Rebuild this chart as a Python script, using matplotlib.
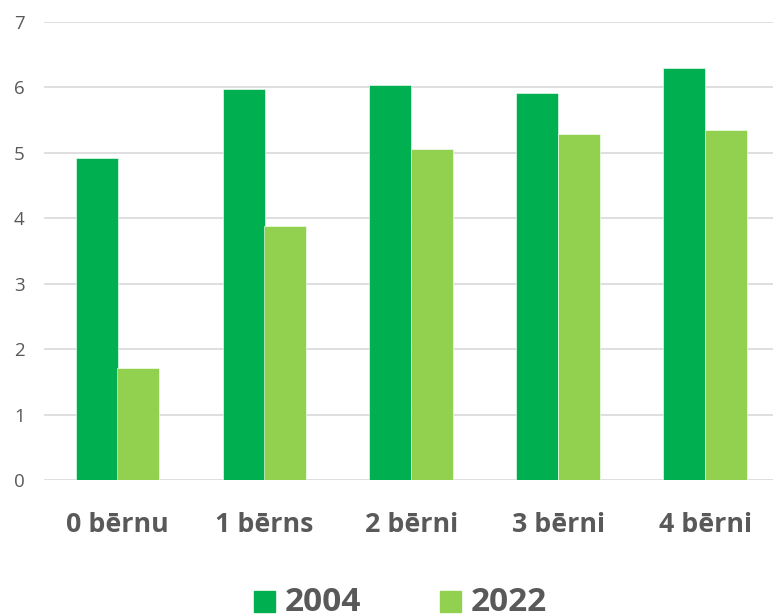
import numpy as np
import matplotlib
matplotlib.use("Agg")
import matplotlib.pyplot as plt
from matplotlib.patches import Rectangle

categories = ["0 bērnu", "1 bērns", "2 bērni", "3 bērni", "4 bērni"]
series_names = ["2004", "2022"]
values_2004 = [4.92, 5.98, 6.04, 5.91, 6.30]
values_2022 = [1.71, 3.88, 5.06, 5.29, 5.35]

colors = ["#00B050", "#92D050"]
text_color = "#595959"

plt.rcParams["font.family"] = ["Open Sans", "DejaVu Sans"]

W, H = 774, 614
fig = plt.figure(figsize=(W / 100, H / 100), dpi=100)
ax = fig.add_axes([44 / W, (H - 480) / H, (773 - 44) / W, (480 - 22) / H])

x = np.arange(len(categories))
bw = 42 / 147
ax.bar(x - bw / 2, values_2004, bw, color=colors[0], edgecolor="white", linewidth=0.4, zorder=3)
ax.bar(x + bw / 2, values_2022, bw, color=colors[1], edgecolor="white", linewidth=0.4, zorder=3)

ax.set_ylim(0, 7)
ax.set_xlim(-0.5, 4.5 - 6 / 147)
ax.set_yticks(range(8))
ax.yaxis.grid(True, color="#d9d9d9", linewidth=1.2, zorder=0)
ax.set_axisbelow(True)
for s in ax.spines.values():
    s.set_visible(False)
ax.tick_params(axis="both", length=0)
ax.tick_params(axis="y", labelsize=13.5, labelcolor=text_color, pad=14)
ax.set_xticks(x)
ax.set_xticklabels(categories, fontsize=19.3, fontweight="bold", color=text_color)
ax.tick_params(axis="x", pad=23)

# legend drawn by hand: square + label for each series
leg_x = [254, 440]
for name, c, lx in zip(series_names, colors, leg_x):
    fig.add_artist(Rectangle((lx / W, 1 - 612 / H), 21 / W, 21 / H,
                             transform=fig.transFigure, color=c))
    fig.text((lx + 31) / W, 1 - 611 / H, name, fontsize=24, fontweight="bold",
             color=text_color, va="baseline", ha="left")

fig.savefig("out.png", dpi=100)
